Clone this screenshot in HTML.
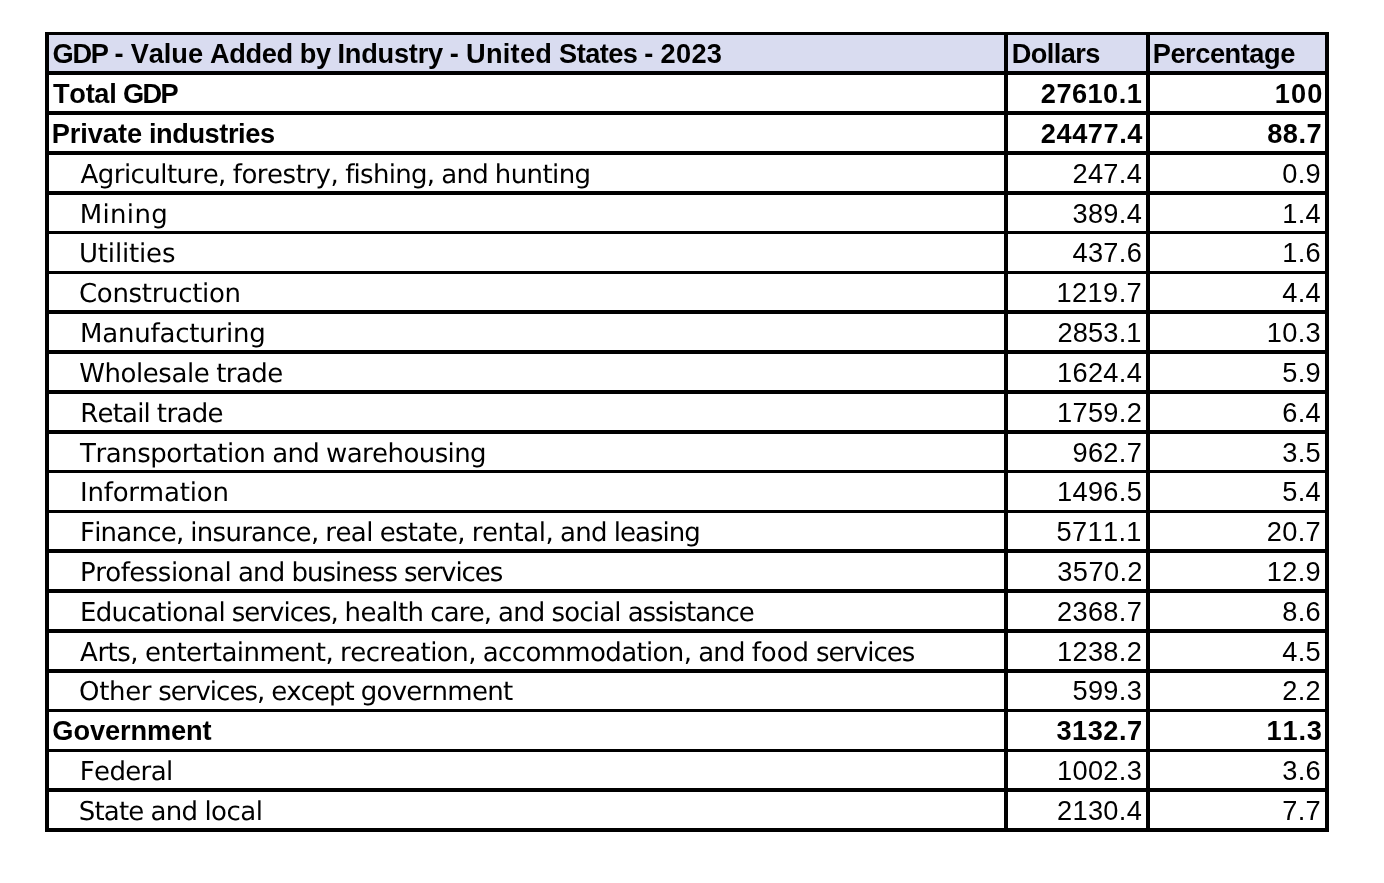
<!DOCTYPE html>
<html lang="en"><head><meta charset="utf-8"><title>GDP - Value Added by Industry - United States - 2023</title>
<style>
html,body{margin:0;padding:0;background:#fff;}
body{width:1384px;height:883px;position:relative;overflow:hidden;color:#000;font-family:"Liberation Sans",Arial,sans-serif;}
.t{position:absolute;white-space:nowrap;line-height:1;font-kerning:none;font-variant-ligatures:none;}
.d{font-family:"DejaVu Sans","Liberation Sans",sans-serif;font-size:26px;text-rendering:geometricPrecision;}
.n{font-family:"Liberation Sans",Arial,sans-serif;font-size:27.2px;}
.b{font-family:"Liberation Sans",Arial,sans-serif;font-weight:bold;font-size:27.2px;}
.r{text-align:right;}
</style></head><body>
<svg width="1384" height="883" viewBox="0 0 1384 883" style="position:absolute;left:0;top:0">
<rect x="47" y="33" width="1280" height="40" fill="#d9dcf0"/>
<g fill="#000">
<rect x="45" y="32" width="1284" height="3"/>
<rect x="45" y="71" width="1284" height="4"/>
<rect x="45" y="111" width="1284" height="4"/>
<rect x="45" y="151" width="1284" height="4"/>
<rect x="45" y="191" width="1284" height="4"/>
<rect x="45" y="231" width="1284" height="3"/>
<rect x="45" y="271" width="1284" height="3"/>
<rect x="45" y="310" width="1284" height="4"/>
<rect x="45" y="350" width="1284" height="4"/>
<rect x="45" y="390" width="1284" height="4"/>
<rect x="45" y="430" width="1284" height="4"/>
<rect x="45" y="470" width="1284" height="3"/>
<rect x="45" y="510" width="1284" height="3"/>
<rect x="45" y="549" width="1284" height="4"/>
<rect x="45" y="589" width="1284" height="4"/>
<rect x="45" y="629" width="1284" height="4"/>
<rect x="45" y="669" width="1284" height="4"/>
<rect x="45" y="709" width="1284" height="3"/>
<rect x="45" y="749" width="1284" height="3"/>
<rect x="45" y="788" width="1284" height="4"/>
<rect x="45" y="828" width="1284" height="4"/>
<rect x="45" y="32" width="4" height="800"/>
<rect x="1004" y="32" width="4" height="800"/>
<rect x="1146" y="32" width="4" height="800"/>
<rect x="1325" y="32" width="4" height="800"/>
</g></svg>
<div class="t b" style="left:52.61px;top:40px;word-spacing:-0.652px"><span style="letter-spacing:-1.352px">GDP</span> <span style="letter-spacing:0.284px">-</span> <span style="letter-spacing:-0.041px">Value</span> <span style="letter-spacing:-0.322px">Added</span> <span style="letter-spacing:-0.446px">by</span> <span style="letter-spacing:-0.235px">Industry</span> <span style="letter-spacing:0.284px">-</span> <span style="letter-spacing:0.259px">United</span> <span style="letter-spacing:-0.566px">States</span> <span style="letter-spacing:0.284px">-</span> <span style="letter-spacing:0.346px">2023</span></div>
<div class="t b" style="left:1011.66px;top:40px;word-spacing:-0.749px"><span style="letter-spacing:-0.586px">Dollars</span></div>
<div class="t b" style="left:1152.74px;top:40px;word-spacing:-0.675px"><span style="letter-spacing:-0.446px">Percentage</span></div>
<div class="t b" style="left:53.09px;top:80px;word-spacing:-0.928px"><span style="letter-spacing:-0.327px">Total</span> <span style="letter-spacing:-1.628px">GDP</span></div>
<div class="t r b" style="right:241.73px;top:80px;letter-spacing:0.455px;">27610.1</div>
<div class="t r b" style="right:60.49px;top:80px;letter-spacing:1.147px;">100</div>
<div class="t b" style="left:51.66px;top:120px;word-spacing:-0.615px"><span style="letter-spacing:-0.057px">Private</span> <span style="letter-spacing:-0.425px">industries</span></div>
<div class="t r b" style="right:241.02px;top:120px;letter-spacing:0.558px;">24477.4</div>
<div class="t r b" style="right:61.87px;top:120px;letter-spacing:0.506px;">88.7</div>
<div class="t d" style="left:80.55px;top:162px;word-spacing:-1.360px"><span style="letter-spacing:-0.545px">Agriculture,</span> <span style="letter-spacing:-0.483px">forestry,</span> <span style="letter-spacing:-0.703px">fishing,</span> <span style="letter-spacing:-0.764px">and</span> <span style="letter-spacing:-0.603px">hunting</span></div>
<div class="t r n" style="right:241.90px;top:160px;letter-spacing:0.326px;">247.4</div>
<div class="t r n" style="right:62.98px;top:160px;letter-spacing:0.327px;">0.9</div>
<div class="t d" style="left:79.76px;top:202px;word-spacing:-1.051px"><span style="letter-spacing:0.324px">Mining</span></div>
<div class="t r n" style="right:241.90px;top:200px;letter-spacing:0.326px;">389.4</div>
<div class="t r n" style="right:62.98px;top:200px;letter-spacing:0.327px;">1.4</div>
<div class="t d" style="left:78.97px;top:241px;word-spacing:-1.227px"><span style="letter-spacing:-0.170px">Utilities</span></div>
<div class="t r n" style="right:241.90px;top:239px;letter-spacing:0.326px;">437.6</div>
<div class="t r n" style="right:62.98px;top:239px;letter-spacing:0.327px;">1.6</div>
<div class="t d" style="left:79.01px;top:281px;word-spacing:-1.167px"><span style="letter-spacing:-0.323px">Construction</span></div>
<div class="t r n" style="right:241.89px;top:279px;letter-spacing:0.405px;">1219.7</div>
<div class="t r n" style="right:62.98px;top:279px;letter-spacing:0.327px;">4.4</div>
<div class="t d" style="left:79.92px;top:321px;word-spacing:-1.206px"><span style="letter-spacing:-0.193px">Manufacturing</span></div>
<div class="t r n" style="right:242.37px;top:319px;letter-spacing:0.157px;">2853.1</div>
<div class="t r n" style="right:62.98px;top:319px;letter-spacing:0.327px;">10.3</div>
<div class="t d" style="left:79.33px;top:361px;word-spacing:-1.383px"><span style="letter-spacing:-0.456px">Wholesale</span> <span style="letter-spacing:-0.552px">trade</span></div>
<div class="t r n" style="right:241.90px;top:359px;letter-spacing:0.326px;">1624.4</div>
<div class="t r n" style="right:62.98px;top:359px;letter-spacing:0.327px;">5.9</div>
<div class="t d" style="left:80.20px;top:401px;word-spacing:-1.480px"><span style="letter-spacing:-0.798px">Retail</span> <span style="letter-spacing:-0.649px">trade</span></div>
<div class="t r n" style="right:241.90px;top:399px;letter-spacing:0.326px;">1759.2</div>
<div class="t r n" style="right:62.98px;top:399px;letter-spacing:0.327px;">6.4</div>
<div class="t d" style="left:79.95px;top:441px;word-spacing:-1.324px"><span style="letter-spacing:-0.439px">Transportation</span> <span style="letter-spacing:-0.728px">and</span> <span style="letter-spacing:-0.588px">warehousing</span></div>
<div class="t r n" style="right:241.90px;top:439px;letter-spacing:0.326px;">962.7</div>
<div class="t r n" style="right:62.98px;top:439px;letter-spacing:0.327px;">3.5</div>
<div class="t d" style="left:79.95px;top:480px;word-spacing:-1.294px"><span style="letter-spacing:-0.203px">Information</span></div>
<div class="t r n" style="right:241.90px;top:478px;letter-spacing:0.326px;">1496.5</div>
<div class="t r n" style="right:62.98px;top:478px;letter-spacing:0.327px;">5.4</div>
<div class="t d" style="left:79.99px;top:520px;word-spacing:-1.349px"><span style="letter-spacing:-0.773px">Finance,</span> <span style="letter-spacing:-0.733px">insurance,</span> <span style="letter-spacing:-0.589px">real</span> <span style="letter-spacing:-0.721px">estate,</span> <span style="letter-spacing:-0.484px">rental,</span> <span style="letter-spacing:-0.753px">and</span> <span style="letter-spacing:-0.962px">leasing</span></div>
<div class="t r n" style="right:242.24px;top:518px;letter-spacing:0.347px;">5711.1</div>
<div class="t r n" style="right:62.98px;top:518px;letter-spacing:0.327px;">20.7</div>
<div class="t d" style="left:79.99px;top:560px;word-spacing:-1.393px"><span style="letter-spacing:-0.514px">Professional</span> <span style="letter-spacing:-0.797px">and</span> <span style="letter-spacing:-0.949px">business</span> <span style="letter-spacing:-1.047px">services</span></div>
<div class="t r n" style="right:241.11px;top:558px;letter-spacing:0.395px;">3570.2</div>
<div class="t r n" style="right:62.98px;top:558px;letter-spacing:0.327px;">12.9</div>
<div class="t d" style="left:79.99px;top:600px;word-spacing:-1.393px"><span style="letter-spacing:-0.695px">Educational</span> <span style="letter-spacing:-1.004px">services,</span> <span style="letter-spacing:-0.579px">health</span> <span style="letter-spacing:-0.873px">care,</span> <span style="letter-spacing:-0.797px">and</span> <span style="letter-spacing:-0.805px">social</span> <span style="letter-spacing:-1.070px">assistance</span></div>
<div class="t r n" style="right:241.90px;top:598px;letter-spacing:0.326px;">2368.7</div>
<div class="t r n" style="right:62.98px;top:598px;letter-spacing:0.327px;">8.6</div>
<div class="t d" style="left:80.11px;top:640px;word-spacing:-1.385px"><span style="letter-spacing:-0.502px">Arts,</span> <span style="letter-spacing:-0.520px">entertainment,</span> <span style="letter-spacing:-0.528px">recreation,</span> <span style="letter-spacing:-0.644px">accommodation,</span> <span style="letter-spacing:-0.789px">and</span> <span style="letter-spacing:-0.030px">food</span> <span style="letter-spacing:-1.039px">services</span></div>
<div class="t r n" style="right:241.90px;top:638px;letter-spacing:0.326px;">1238.2</div>
<div class="t r n" style="right:62.98px;top:638px;letter-spacing:0.327px;">4.5</div>
<div class="t d" style="left:79.04px;top:679px;word-spacing:-1.372px"><span style="letter-spacing:-0.327px">Other</span> <span style="letter-spacing:-0.983px">services,</span> <span style="letter-spacing:-0.954px">except</span> <span style="letter-spacing:-0.724px">government</span></div>
<div class="t r n" style="right:241.90px;top:677px;letter-spacing:0.326px;">599.3</div>
<div class="t r n" style="right:62.98px;top:677px;letter-spacing:0.327px;">2.2</div>
<div class="t b" style="left:52.35px;top:717px;word-spacing:-0.723px"><span style="letter-spacing:-0.091px">Government</span></div>
<div class="t r b" style="right:241.38px;top:717px;letter-spacing:0.506px;">3132.7</div>
<div class="t r b" style="right:61.18px;top:717px;letter-spacing:0.827px;">11.3</div>
<div class="t d" style="left:79.74px;top:759px;word-spacing:-1.343px"><span style="letter-spacing:-0.647px">Federal</span></div>
<div class="t r n" style="right:241.90px;top:757px;letter-spacing:0.326px;">1002.3</div>
<div class="t r n" style="right:62.98px;top:757px;letter-spacing:0.327px;">3.6</div>
<div class="t d" style="left:78.84px;top:799px;word-spacing:-1.273px"><span style="letter-spacing:-0.829px">State</span> <span style="letter-spacing:-0.677px">and</span> <span style="letter-spacing:-0.516px">local</span></div>
<div class="t r n" style="right:241.90px;top:797px;letter-spacing:0.326px;">2130.4</div>
<div class="t r n" style="right:62.98px;top:797px;letter-spacing:0.327px;">7.7</div>
</body></html>
